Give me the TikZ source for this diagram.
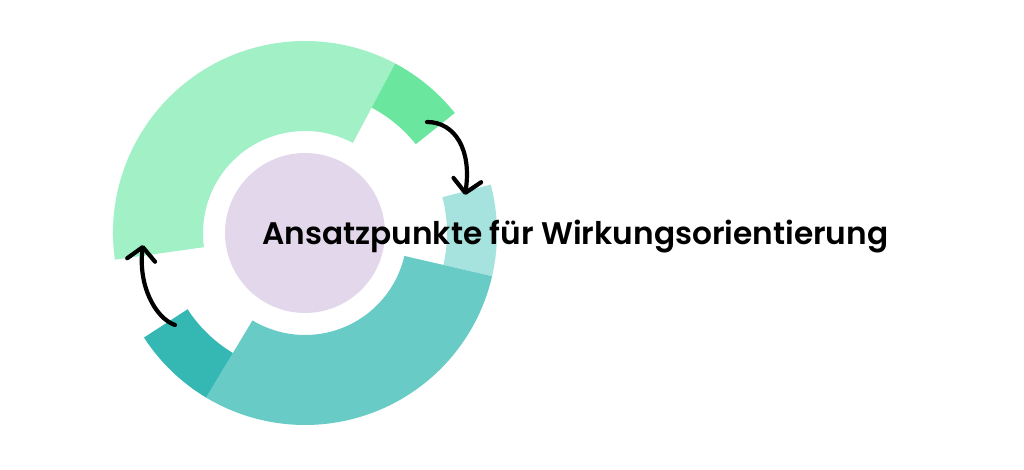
\documentclass[tikz,border=0pt]{standalone}
\usepackage{fontspec}
\setmainfont{Poppins}[BoldFont={Poppins SemiBold}]
\usetikzlibrary{arrows.meta}

\definecolor{ringlight}{HTML}{A2F0C6}
\definecolor{ringgreen}{HTML}{6BE69F}
\definecolor{ringpale}{HTML}{A6E2DE}
\definecolor{ringteal}{HTML}{68CBC5}
\definecolor{ringdark}{HTML}{35B8B3}
\definecolor{midpurple}{HTML}{E3D8EB}

\begin{document}
\begin{tikzpicture}[x=1pt,y=1pt,
    loop arrow/.style={line width=4.2pt,line cap=round,-{Straight Barb[length=13pt,width=28pt,round]}}]
        \useasboundingbox (0,0) rectangle (1024,470);

        % Draw the middle circle
        \fill[midpurple] (305,237) circle (80);

        % Draw the ring segments
        \begin{scope}[shift={(305,237)}]
            \fill[ringlight] (62:102) arc[start angle=62,end angle=188,radius=102] -- (188:192) arc[start angle=188,end angle=62,radius=192] -- cycle;
            \fill[ringgreen] (38.7:142) arc[start angle=38.7,end angle=62,radius=142] -- (62:192) arc[start angle=62,end angle=38.7,radius=192] -- cycle;
            \fill[ringpale] (-13:142) arc[start angle=-13,end angle=14.6,radius=142] -- (14.6:192) arc[start angle=14.6,end angle=-13,radius=192] -- cycle;
            \fill[ringteal] (-121:102) arc[start angle=-121,end angle=-13,radius=102] -- (-13:192) arc[start angle=-13,end angle=-121,radius=192] -- cycle;
            \fill[ringdark] (-147:140) arc[start angle=-147,end angle=-121,radius=140] -- (-121:192) arc[start angle=-121,end angle=-147,radius=192] -- cycle;
        \end{scope}

        % Label
        \node[anchor=base west,inner sep=0pt,font=\fontsize{31.2}{38}\selectfont\bfseries] (title) at (262,225) {Ansatzpunkte für Wirkungsorientierung};

        % Arrow ends
        \coordinate (greenend) at (427,348);
        \coordinate (paleend) at (465,275);
        \coordinate (darkend) at (175,145);
        \coordinate (lightend) at (143,225);

        % Draw the arrows
        \draw[loop arrow] (greenend) .. controls (455,348) and (472,320) .. (paleend);
        \draw[loop arrow] (darkend) .. controls (155,152) and (138,185) .. (lightend);

    \end{tikzpicture}
\end{document}
